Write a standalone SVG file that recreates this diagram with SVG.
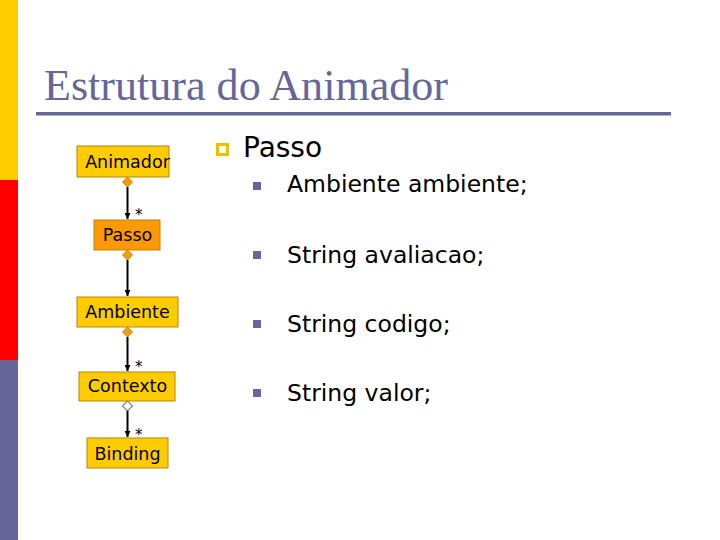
<svg xmlns="http://www.w3.org/2000/svg" width="720" height="540" viewBox="0 0 720 540">
<style>
.node{stroke:#b8860b;stroke-width:1}
.nt{font-family:"DejaVu Sans",Verdana,sans-serif;font-size:17.5px;fill:#000;text-anchor:middle}
.line{stroke:#000;stroke-width:2;fill:none}
.star{font-family:"DejaVu Sans",sans-serif;font-size:15px;fill:#000}
.bt{font-family:"DejaVu Sans",Verdana,sans-serif;fill:#000}
</style>
<defs>
<marker id="arr" viewBox="0 0 10 10" refX="10" refY="5" markerWidth="6" markerHeight="6" orient="auto" markerUnits="userSpaceOnUse">
<path d="M0,0 L10,5 L0,10 z" fill="#000"/>
</marker>
</defs>
<rect width="720" height="540" fill="#fff"/>
<rect x="0" y="0" width="18" height="180" fill="#ffcc00"/>
<rect x="0" y="180" width="18" height="180" fill="#ff0000"/>
<rect x="0" y="360" width="18" height="180" fill="#666699"/>
<text x="44" y="100" font-family="Liberation Serif,serif" font-size="44" fill="#666699" textLength="404" lengthAdjust="spacingAndGlyphs">Estrutura do Animador</text>
<rect x="36" y="112" width="635" height="3.5" fill="#666699"/>
<g id="connectors">
<path class="line" d="M127.5,187 V219" marker-end="url(#arr)"/>
<path d="M127.5,177 l5,5 l-5,5 l-5,-5 z" fill="#ff9900" stroke="#b8860b"/>
<text class="star" x="135" y="220">*</text>
<path class="line" d="M127.5,260 V296" marker-end="url(#arr)"/>
<path d="M127.5,250 l5,5 l-5,5 l-5,-5 z" fill="#ff9900" stroke="#b8860b"/>
<path class="line" d="M127.5,337 V371" marker-end="url(#arr)"/>
<path d="M127.5,327 l5,5 l-5,5 l-5,-5 z" fill="#ff9900" stroke="#b8860b"/>
<text class="star" x="135" y="372">*</text>
<path class="line" d="M127.5,411 V437" marker-end="url(#arr)"/>
<path d="M127.5,401 l5,5 l-5,5 l-5,-5 z" fill="#fff" stroke="#000" stroke-width="0.8"/>
<text class="star" x="135" y="440">*</text>
</g>
<g id="animador"><rect class="node" x="77" y="146" width="92" height="31" fill="#ffcc00"/><text class="nt" x="127.5" y="168">Animador</text></g>
<g id="passo"><rect class="node" x="94" y="220" width="66" height="30" fill="#ff9900"/><text class="nt" x="127.5" y="241">Passo</text></g>
<g id="ambiente"><rect class="node" x="77" y="297" width="101" height="30" fill="#ffcc00"/><text class="nt" x="127.5" y="318">Ambiente</text></g>
<g id="contexto"><rect class="node" x="79" y="372" width="96" height="29" fill="#ffcc00"/><text class="nt" x="127.5" y="392">Contexto</text></g>
<g id="binding"><rect class="node" x="87" y="438" width="81" height="30" fill="#ffcc00"/><text class="nt" x="127.5" y="460">Binding</text></g>
<rect x="217.5" y="144.5" width="10" height="10" fill="none" stroke="#e6c200" stroke-width="3"/>
<text class="bt" x="243" y="157" font-size="28">Passo</text>
<g fill="#666699">
<rect x="253" y="182" width="8" height="8"/>
<rect x="253" y="251" width="8" height="8"/>
<rect x="253" y="320" width="8" height="8"/>
<rect x="253" y="389" width="8" height="8"/>
</g>
<text class="bt" x="287" y="192" font-size="23.5">Ambiente ambiente;</text>
<text class="bt" x="287" y="263" font-size="23.5">String avaliacao;</text>
<text class="bt" x="287" y="332" font-size="23.5">String codigo;</text>
<text class="bt" x="287" y="401" font-size="23.5">String valor;</text>
</svg>
